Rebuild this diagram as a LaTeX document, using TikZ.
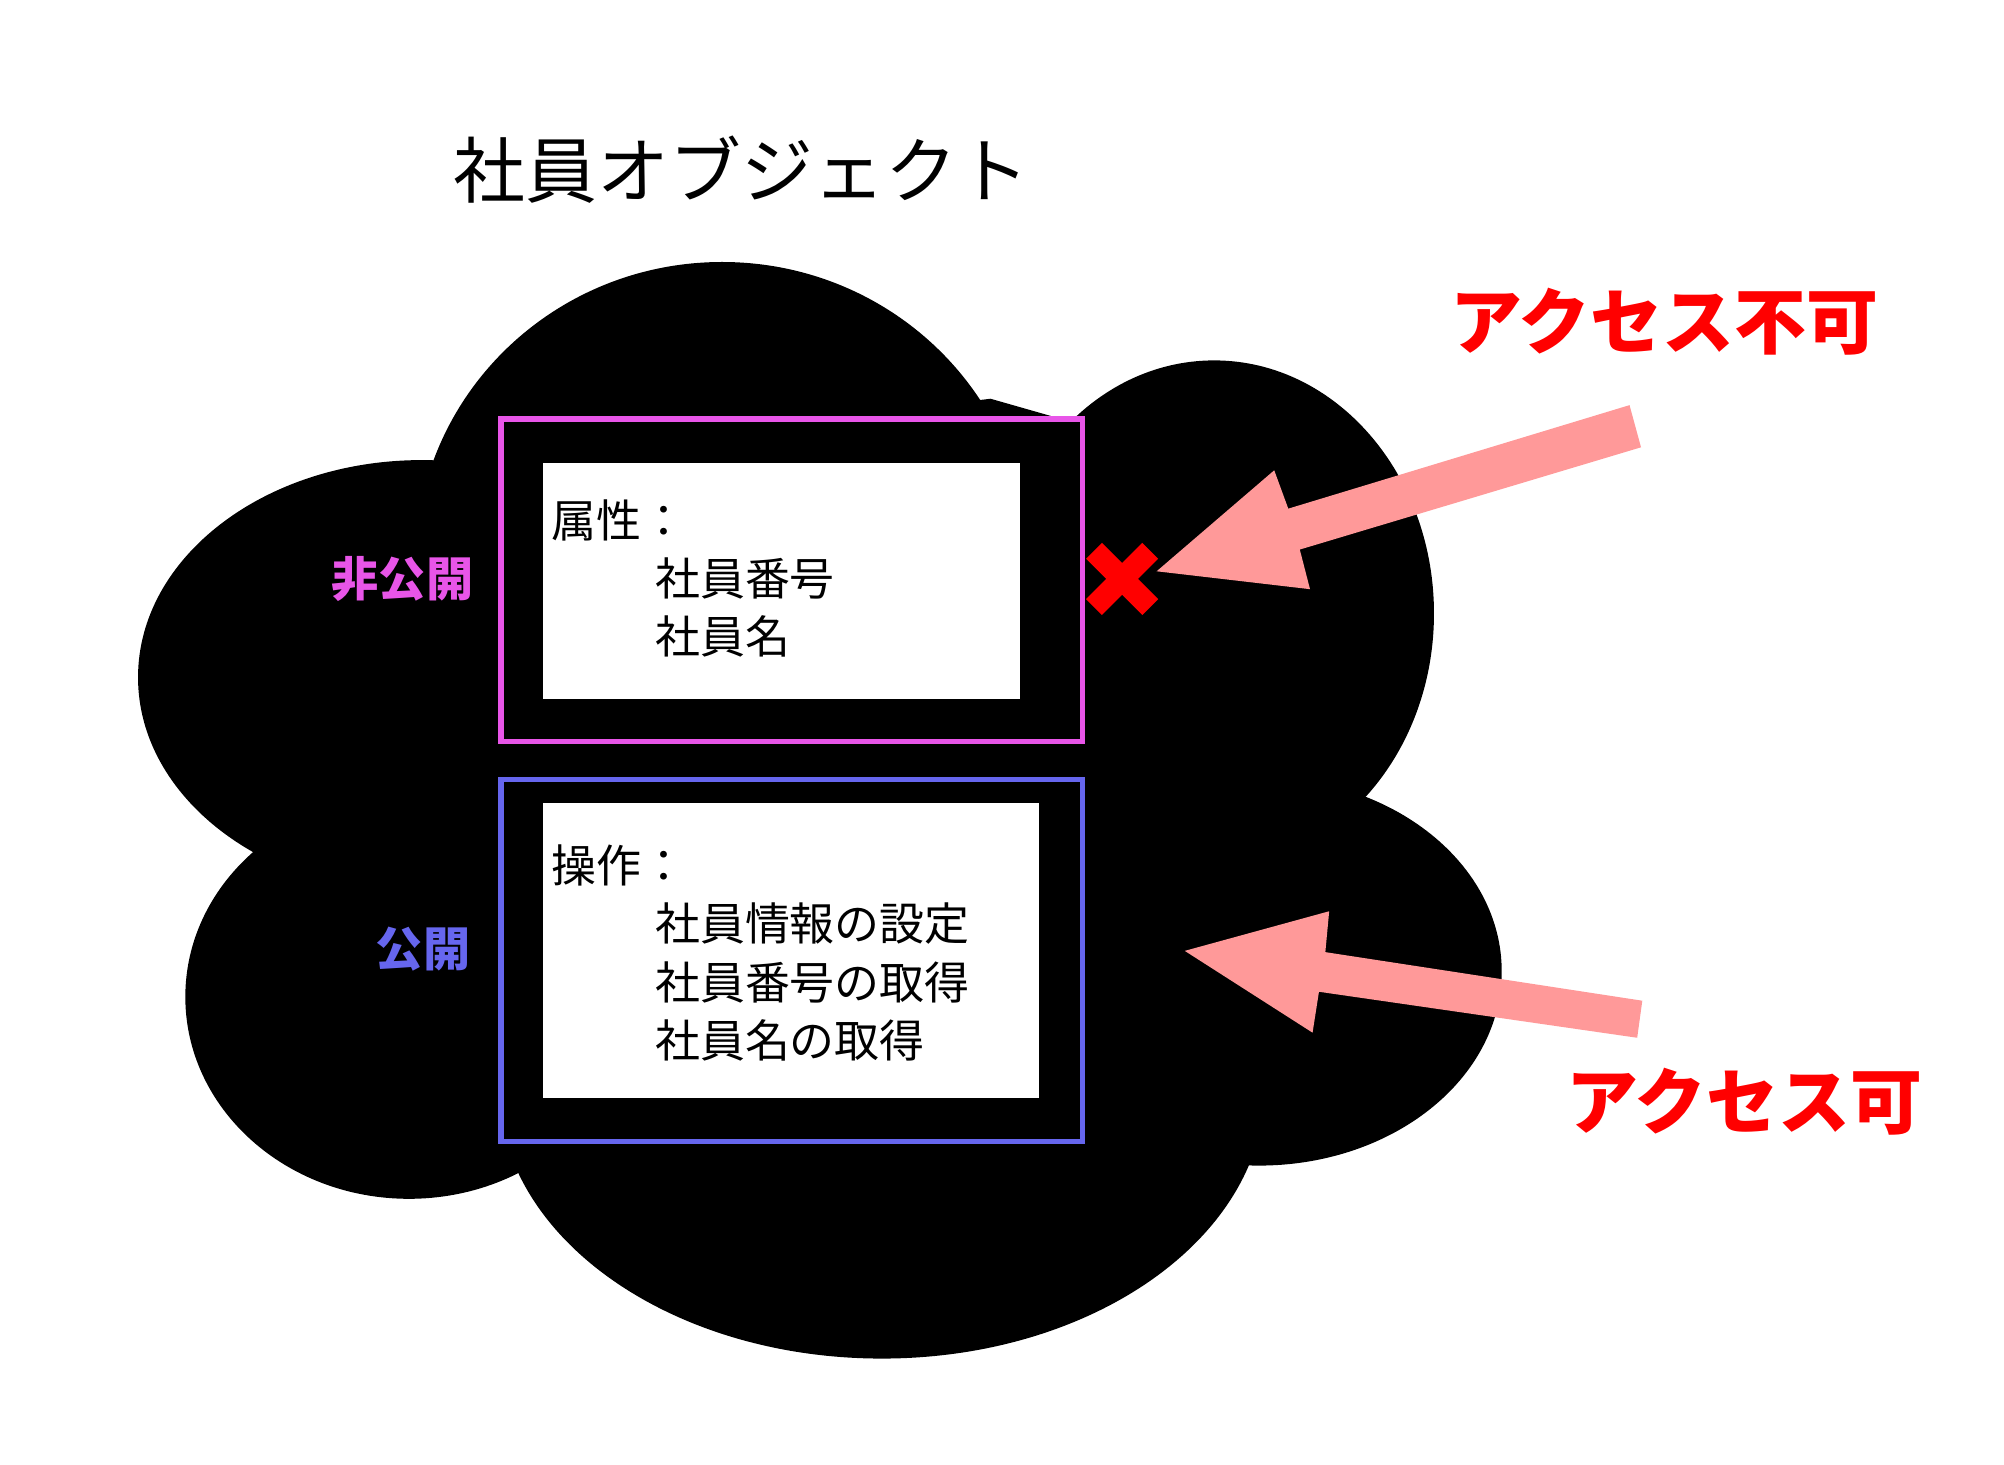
\documentclass[tikz,border=0pt]{standalone}
\usepackage{fontspec}
\setmainfont{Noto Sans CJK JP}
\usetikzlibrary{positioning}
\definecolor{privc}{HTML}{E855E8}
\definecolor{pubc}{HTML}{6666EE}
\definecolor{arrowc}{HTML}{FF9999}
\tikzset{
  cloudpart/.style={fill=black},
  frame/.style={draw,line width=1.2pt},
  inner/.style={fill=white},
  body/.style={anchor=north west,align=left,inner sep=0pt,font=\fontsize{10pt}{13pt}\selectfont},
  side/.style={font=\bfseries\fontsize{10.5pt}{13pt}\selectfont},
  redlab/.style={text=red,font=\bfseries\fontsize{16pt}{20pt}\selectfont}
}
\begin{document}
\begin{tikzpicture}[x=0.01cm,y=-0.01cm]
        \useasboundingbox (0,0) rectangle (1568,1146);
        % cloud
        \fill[cloudpart] (565,440) ellipse [x radius=240,y radius=235];
        \fill[cloudpart] (950,480) ellipse [x radius=172,y radius=198];
        \fill[cloudpart] (330,530) ellipse [x radius=222,y radius=170];
        \fill[cloudpart] (320,780) ellipse [x radius=175,y radius=158];
        \fill[cloudpart] (690,850) ellipse [x radius=300,y radius=213];
        \fill[cloudpart] (985,760) ellipse [x radius=190,y radius=152];
        \fill[cloudpart] (340,400) rectangle (1000,900);
        \fill[cloudpart] (380,360) -- (775,312) -- (838,330) -- (850,400) -- (380,400) -- cycle;

        % boxes
        \draw[frame,privc] (392,328) rectangle (847,580);
        \fill[inner] (425,362) rectangle (798,547);
        \draw[frame,pubc] (392,610) rectangle (847,893);
        \fill[inner] (425,628) rectangle (813,859);

        \node (title) at (580,133) {\fontsize{16pt}{20pt}\selectfont 社員オブジェクト};
        \node[body] (attr) at (431,390) {属性：\\\hspace{2.3em}社員番号\\\hspace{2.3em}社員名};
        \node[body] (ops) at (431,660) {操作：\\\hspace{2.3em}社員情報の設定\\\hspace{2.3em}社員番号の取得\\\hspace{2.3em}社員名の取得};
        \node[side,text=privc] (priv) at (315,453) {非公開};
        \node[side,text=pubc] (pub) at (331,743) {公開};
        \node[redlab] (deny) at (1302,252) {アクセス不可};
        \node[redlab] (allow) at (1365,862) {アクセス可};

        % arrows
        \fill[arrowc] (1275,317) -- (1008,398) -- (997,368) -- (905,447) -- (1025,461) -- (1017,430) -- (1284,350) -- cycle;
        \fill[arrowc] (1285,783) -- (1037,745) -- (1040,713) -- (927,744) -- (1027,808) -- (1032,776) -- (1281,812) -- cycle;

        % cross
        \coordinate (xc) at (878,453);
        \draw[red,line width=5pt] ([shift={(-22,-22)}]xc) -- ([shift={(22,22)}]xc);
        \draw[red,line width=5pt] ([shift={(-22,22)}]xc) -- ([shift={(22,-22)}]xc);
\end{tikzpicture}
\end{document}
